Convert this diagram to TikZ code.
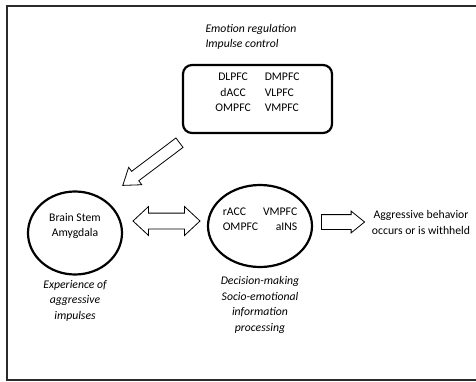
\documentclass[tikz,border=0pt]{standalone}
\usepackage{fontspec}
\setmainfont{Carlito}
\usetikzlibrary{shapes.geometric, shapes.arrows, positioning}
\definecolor{framegray}{HTML}{2B2B2B}

\begin{document}
\begin{tikzpicture}[x=1pt, y=-1pt, font=\fontsize{11.7}{15.5}\selectfont]
\tikzstyle{regionbox} = [rectangle, rounded corners=9pt, minimum width=149pt, minimum height=68pt, draw, line width=2.2pt]
\tikzstyle{hub} = [ellipse, draw, line width=2.2pt, inner sep=0pt]
\tikzstyle{note} = [align=center, font=\fontsize{11.7}{15.5}\selectfont\itshape]
\tikzstyle{fatarrow} = [single arrow, draw, line width=0.8pt, inner xsep=0pt, single arrow head indent=0pt]
\tikzstyle{fatboth} = [double arrow, draw, line width=0.8pt, inner xsep=0pt, double arrow head indent=0pt]

\clip (0,0) rectangle (476,382);
\draw[framegray, line width=1.5pt] (7,6) rectangle (490,380);

% prefrontal control regions
\node (regulation) [note, align=left, anchor=west] at (202,37) {Emotion regulation\\Impulse control};
\node (pfc) [regionbox] at (257.5,99) {};
\node (pfclist) at ([yshift=6pt]pfc.center) {\begin{tabular}{@{}c@{\hspace{14pt}}l@{}}DLPFC & DMPFC\\ dACC & VLPFC\\ OMPFC & VMPFC\end{tabular}};

% subcortical and integration hubs
\node (stem) [hub, minimum width=94pt, minimum height=83pt] at (75,233) {};
\node (stemlist) [align=center] at ([yshift=7pt]stem.center) {Brain Stem\\Amygdala};
\node (hubmid) [hub, minimum width=104pt, minimum height=82pt] at (260,226) {};
\node (hublist) at ([yshift=6pt]hubmid.center) {\begin{tabular}{@{}l@{\hspace{5pt}}r@{}}rACC & VMPFC\\ OMPFC & aINS\end{tabular}};
\node (outcome) [align=center] at (421,222.5) {Aggressive behavior\\occurs or is withheld};

\node (experience) [note, below=1pt of stem] {Experience of\\aggressive\\impulses};
\node (decision) [note, below=5pt of hubmid] {Decision-making\\Socio-emotional\\information\\processing};

% block arrows
\node (curb) [fatarrow, inner ysep=5.5pt, minimum height=71pt, single arrow head extend=5pt, single arrow tip angle=70, rotate=217] at (154.5,161.5) {};
\node (exchange) [fatboth, inner ysep=7.5pt, minimum height=67pt, double arrow head extend=6.5pt, double arrow tip angle=86] at (166.5,221) {};
\node (result) [fatarrow, inner ysep=7pt, minimum height=43pt, single arrow head extend=3.5pt, single arrow tip angle=78] at (338.5,222) {};

\end{tikzpicture}
\end{document}
